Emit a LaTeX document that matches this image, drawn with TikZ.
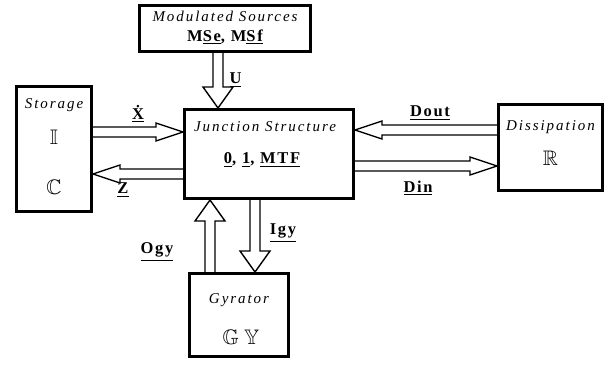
\documentclass[tikz,border=0pt]{standalone}
\usepackage{fontspec}
\usepackage{amssymb}
\setmainfont{Liberation Serif}
\newfontfamily\ttlfont[LetterSpace=13]{Liberation Serif}
\newfontfamily\lblfont[LetterSpace=10]{Liberation Serif}
\usetikzlibrary{calc,positioning}
\tikzset{
  blk/.style={rectangle,draw,line width=3pt,inner sep=0pt},
  ttl/.style={font=\ttlfont\itshape\fontsize{15}{17}\selectfont},
  sym/.style={font=\fontsize{21}{23}\selectfont},
  lbl/.style={font=\lblfont\bfseries\fontsize{16.5}{18}\selectfont},
  fat/.style 2 args={line width=1.4pt,line join=miter,to path={
    let \p1=(\tikztostart),\p2=(\tikztotarget),\n1={atan2(\y2-\y1,\x2-\x1)} in
    ($(\p1)+(\n1+90:5pt)$) -- ($(\p2)+(\n1+180:#2)+(\n1+90:5pt)$)
    -- ($(\p2)+(\n1+180:#2)+(\n1+90:#1)$) -- (\p2)
    -- ($(\p2)+(\n1+180:#2)+(\n1-90:#1)$) -- ($(\p2)+(\n1+180:#2)+(\n1-90:5pt)$)
    -- ($(\p1)+(\n1-90:5pt)$)}},
  hfat/.style={fat={9pt}{27pt}},
  vfat/.style={fat={15pt}{21pt}},
}
\begin{document}
\begin{tikzpicture}[x=1pt,y=-1pt]
  \useasboundingbox (0,0) rectangle (612,370);
  % boxes
  \node[blk,minimum width=171pt,minimum height=46pt] (ms) at (225,28.5) {};
  \node[blk,minimum width=75pt,minimum height=125pt] (st) at (54,149) {};
  \node[blk,minimum width=169pt,minimum height=89pt] (js) at (269,154) {};
  \node[blk,minimum width=104pt,minimum height=86pt] (di) at (550.5,147.5) {};
  \node[blk,minimum width=99pt,minimum height=83pt] (gy) at (239,315) {};
  % texts inside
  \node[ttl] (msttl) at ([yshift=-12pt]ms.north) {Modulated Sources};
  \node[lbl] (mssym) at ([yshift=-33pt]ms.north) {M\underline{Se}, M\underline{Sf}};
  \node[ttl] (stttl) at ([yshift=-20pt]st.north) {Storage};
  \node[sym] (sti) at ([yshift=-52pt]st.north) {$\mathbb{I}$};
  \node[sym] (stc) at ([yshift=-102pt]st.north) {$\mathbb{C}$};
  \node[ttl] (jsttl) at ([xshift=-4pt,yshift=-19pt]js.north) {Junction Structure};
  \node[lbl] (jssym) at ([xshift=-7pt,yshift=-52pt]js.north) {\underline{0}, \underline{1}, \underline{MTF}};
  \node[ttl] (dittl) at ([yshift=-24pt]di.north) {Dissipation};
  \node[sym] (dir) at ([yshift=-55pt]di.north) {$\mathbb{R}$};
  \node[ttl] (gyttl) at ([yshift=-28pt]gy.north) {Gyrator};
  \node[sym] (gysym) at ([xshift=2pt,yshift=-65pt]gy.north) {$\mathbb{G}\ \mathbb{Y}$};
  % connector ends
  \coordinate (u) at ([xshift=-7pt]ms.south);
  \coordinate (xs) at ([yshift=17pt]st.east);
  \coordinate (zs) at ([yshift=-20pt]js.west);
  \coordinate (do) at ([yshift=17.5pt]di.west);
  \coordinate (dn) at ([yshift=-12pt]js.east);
  \coordinate (og) at ([xshift=-29pt]gy.north);
  \coordinate (ig) at ([xshift=-14pt]js.south);
  % power arrows
  \draw[vfat] (u) to (u |- js.north);
  \draw[hfat] (xs) to (xs -| js.west);
  \draw[hfat] (zs) to (zs -| st.east);
  \draw[hfat] (do) to (do -| js.east);
  \draw[hfat] (dn) to (dn -| di.west);
  \draw[vfat] (og) to (og |- js.south);
  \draw[vfat] (ig) to (ig |- gy.north);
  % labels
  \node[lbl,anchor=west] (ulbl) at ([xshift=8pt,yshift=-27pt]u) {\underline{U}};
  \node[lbl] (xlbl) at ([xshift=45pt,yshift=18pt]xs) {\underline{\.X}};
  \node[lbl] (zlbl) at ([xshift=-60pt,yshift=-16pt]zs) {\underline{Z}};
  \node[lbl] (dolbl) at ([xshift=-67pt,yshift=17pt]do) {\underline{Dout}};
  \node[lbl] (dnlbl) at ([xshift=63pt,yshift=-22pt]dn) {\underline{Din}};
  \node[lbl] (oglbl) at ([xshift=-53pt,yshift=20pt]og) {\underline{Ogy}};
  \node[lbl] (iglbl) at ([xshift=28pt,yshift=-33pt]ig) {\underline{Igy}};
\end{tikzpicture}
\end{document}
